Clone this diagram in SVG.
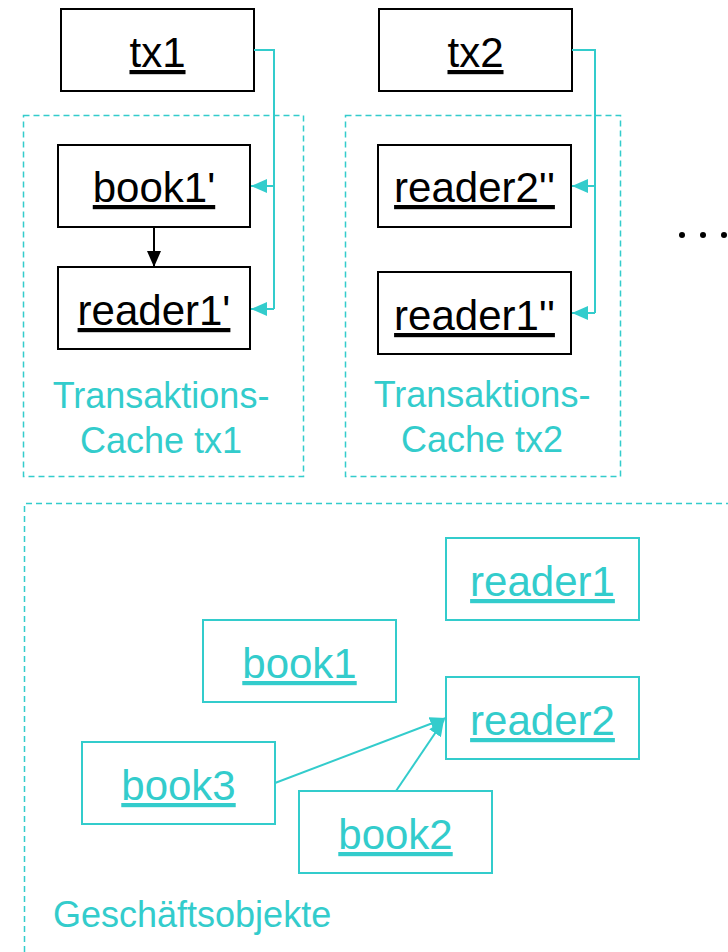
<svg xmlns="http://www.w3.org/2000/svg" width="728" height="952" viewBox="0 0 728 952">
<style>
  .bk { fill: #ffffff; stroke: #000000; stroke-width: 2; }
  .cy { fill: #ffffff; stroke: #33CCCC; stroke-width: 2; }
  .grp { fill: none; stroke: #33CCCC; stroke-width: 1.5; stroke-dasharray: 6 4; }
  .lbl { font-family: "Liberation Sans", Arial, sans-serif; font-size: 42px; text-anchor: middle; text-decoration: underline; }
  .lb { fill: #000000; }
  .lc { fill: #33CCCC; }
  .cap { font-family: "Liberation Sans", Arial, sans-serif; font-size: 36px; fill: #33CCCC; }
  .conc { fill: none; stroke: #33CCCC; stroke-width: 2; }
  .conb { fill: none; stroke: #000000; stroke-width: 2; }
</style>
<defs>
  <marker id="ac" markerWidth="16" markerHeight="14" refX="16" refY="7" orient="auto" markerUnits="userSpaceOnUse">
    <path d="M0,0 L16,7 L0,14 Z" fill="#33CCCC"/>
  </marker>
  <marker id="ab" markerWidth="16" markerHeight="14" refX="16" refY="7" orient="auto" markerUnits="userSpaceOnUse">
    <path d="M0,0 L16,7 L0,14 Z" fill="#000000"/>
  </marker>
</defs>

<g id="cache-tx1">
  <rect class="grp" x="23.5" y="115.5" width="280" height="361"/>
  <text class="cap" x="161" y="408" text-anchor="middle">Transaktions-</text>
  <text class="cap" x="161" y="453" text-anchor="middle">Cache tx1</text>
</g>
<g id="cache-tx2">
  <rect class="grp" x="345.5" y="115.5" width="275" height="361"/>
  <text class="cap" x="482" y="407" text-anchor="middle">Transaktions-</text>
  <text class="cap" x="482" y="452" text-anchor="middle">Cache tx2</text>
</g>
<g id="geschaeftsobjekte">
  <path class="grp" d="M24.5,952 L24.5,503.5 L728,503.5"/>
  <text class="cap" x="53" y="927">Geschäftsobjekte</text>
</g>

<g id="tx1">
  <rect class="bk" x="61" y="9" width="193" height="82"/>
  <text class="lbl lb" x="157.5" y="67">tx1</text>
</g>
<g id="tx2">
  <rect class="bk" x="379" y="9" width="193" height="82"/>
  <text class="lbl lb" x="475.5" y="67">tx2</text>
</g>
<g id="book1p">
  <rect class="bk" x="58" y="145" width="192" height="82"/>
  <text class="lbl lb" x="154" y="202">book1'</text>
</g>
<g id="reader1p">
  <rect class="bk" x="58" y="267" width="192" height="82"/>
  <text class="lbl lb" x="154" y="325">reader1'</text>
</g>
<g id="reader2pp">
  <rect class="bk" x="378" y="145" width="193" height="82"/>
  <text class="lbl lb" x="474.5" y="202">reader2''</text>
</g>
<g id="reader1pp">
  <rect class="bk" x="378" y="272" width="193" height="82"/>
  <text class="lbl lb" x="474.5" y="330">reader1''</text>
</g>

<g id="reader1">
  <rect class="cy" x="446" y="538" width="193" height="82"/>
  <text class="lbl lc" x="542.5" y="596">reader1</text>
</g>
<g id="book1">
  <rect class="cy" x="203" y="620" width="193" height="82"/>
  <text class="lbl lc" x="299.5" y="678">book1</text>
</g>
<g id="reader2">
  <rect class="cy" x="446" y="677" width="193" height="82"/>
  <text class="lbl lc" x="542.5" y="735">reader2</text>
</g>
<g id="book3">
  <rect class="cy" x="82" y="742" width="193" height="82"/>
  <text class="lbl lc" x="178.5" y="800">book3</text>
</g>
<g id="book2">
  <rect class="cy" x="299" y="791" width="193" height="82"/>
  <text class="lbl lc" x="395.5" y="849">book2</text>
</g>

<g id="ellipsis">
  <circle cx="682" cy="235" r="3" fill="#000000"/>
  <circle cx="703" cy="235" r="3" fill="#000000"/>
  <circle cx="724" cy="235" r="3" fill="#000000"/>
</g>

<g id="connectors">
  <path class="conc" d="M254,50 L274,50 L274,309"/>
  <path class="conc" d="M274,186 L251,186" marker-end="url(#ac)"/>
  <path class="conc" d="M274,309 L251,309" marker-end="url(#ac)"/>
  <path class="conc" d="M572,50 L595,50 L595,313"/>
  <path class="conc" d="M595,186 L572,186" marker-end="url(#ac)"/>
  <path class="conc" d="M595,313 L572,313" marker-end="url(#ac)"/>
  <path class="conb" d="M154,227 L154,267" marker-end="url(#ab)"/>
  <path class="conc" d="M275,783 L446,718" marker-end="url(#ac)"/>
  <path class="conc" d="M396,791 L444,720" marker-end="url(#ac)"/>
</g>
</svg>
